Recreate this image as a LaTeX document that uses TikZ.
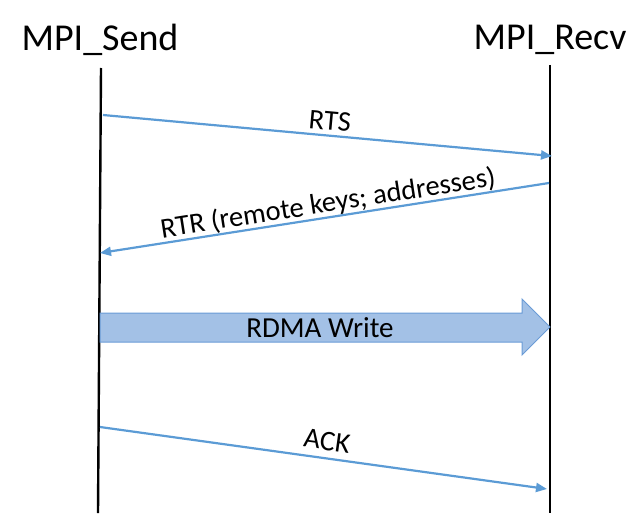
\documentclass[tikz,border=0pt]{standalone}
\usepackage{fontspec}
\setmainfont{Carlito}
\usetikzlibrary{arrows.meta}
\definecolor{msgblue}{HTML}{5B9BD5}
\definecolor{bigfill}{HTML}{A3C1E6}
\definecolor{bigedge}{HTML}{6A9BD6}
\begin{document}
\begin{tikzpicture}[x=1pt,y=-1pt,
  lifeline/.style={line width=2.4pt,black},
  msg/.style={line width=2.2pt,msgblue,-{Triangle[length=11pt,width=9pt]}},
  lbl/.style={font=\fontsize{28.5}{32}\selectfont,inner sep=0pt},
  title/.style={font=\fontsize{38}{44}\selectfont,inner sep=0pt}]
\useasboundingbox (0,0) rectangle (642,516);
% lifelines
\coordinate (sTop) at (101,68);
\coordinate (sBot) at (98,513);
\coordinate (rTop) at (550,65);
\coordinate (rBot) at (550,513);
\draw[lifeline] (sTop) -- (sBot);
\draw[lifeline] (rTop) -- (rBot);
\node[title] (send) at (100,40) {MPI\_Send};
\node[title] (recv) at (550,40) {MPI\_Recv};
% RTS
\coordinate (rtsA) at (103,115);
\coordinate (rtsB) at (552,156);
\draw[msg] (rtsA) -- (rtsB);
\node[lbl,rotate=-5.2] (rts) at (330,121) {RTS};
% RTR
\coordinate (rtrA) at (549,183);
\coordinate (rtrB) at (100,253);
\draw[msg] (rtrA) -- (rtrB);
\node[lbl,rotate=8.9] (rtr) at (328,204) {RTR (remote keys; addresses)};
% RDMA write
\draw[bigedge,fill=bigfill,line width=1pt] (100,313) -- (522,313) -- (522,299) -- (550,327) -- (522,355) -- (522,342) -- (100,342) -- cycle;
\node[font=\fontsize{29}{34}\selectfont,inner sep=0pt] (rdma) at (320,328) {RDMA Write};
% ACK
\coordinate (ackA) at (100,427);
\coordinate (ackB) at (547,489);
\draw[msg] (ackA) -- (ackB);
\node[lbl,rotate=-7.9] (ack) at (327,441) {ACK};
\end{tikzpicture}
\end{document}
